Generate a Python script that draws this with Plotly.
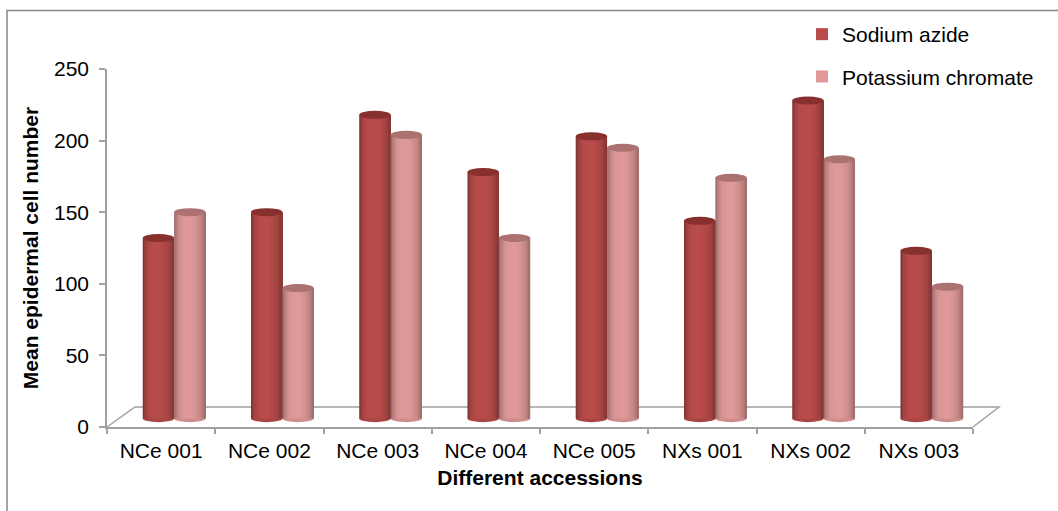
import numpy as np
import plotly.graph_objects as go

# ---- data ----
categories = ["NCe 001", "NCe 002", "NCe 003", "NCe 004", "NCe 005", "NXs 001", "NXs 002", "NXs 003"]
sodium_azide = [126, 144, 212, 172, 197, 138, 222, 117]
potassium_chromate = [144, 91, 198, 126, 189, 168, 181, 92]
y_ticks = [0, 50, 100, 150, 200, 250]

# ---- layout geometry (px) ----
W_PX, H_PX = 1058, 511
L, R, T, B = 107, 85, 69, 84
PW, PH = W_PX - L - R, H_PX - T - B

def px_to_paper(px, py):
    return (px - L) / PW, (H_PX - B - py) / PH

FONT = "Liberation Sans, Arial, sans-serif"
BASE = 6          # visual lift of bars above the front floor edge (3D look)
BAR_W = 0.29
N_STRIPS = 24
# cylinder shading profile across the bar width
_t_keys = [0.0, 0.08, 0.22, 0.38, 0.55, 0.70, 0.85, 1.0]
_f_keys = [0.66, 0.84, 0.97, 1.0, 1.0, 0.96, 0.87, 0.70]

def col(c, f=1.0):
    return "rgb(%d,%d,%d)" % tuple(min(255, int(round(v * f))) for v in c)

series = [
    ("Sodium azide", sodium_azide, (184, 76, 74), (136, 48, 46), -0.17),
    ("Potassium chromate", potassium_chromate, (222, 153, 152), (172, 114, 113), 0.12),
]

fig = go.Figure()
step = BAR_W / N_STRIPS
for name, vals, base_col, top_col, off in series:
    for k in range(N_STRIPS):
        t = (k + 0.5) / N_STRIPS
        f = float(np.interp(t, _t_keys, _f_keys))
        c = col(base_col, f)
        w = step * 1.6 if k < N_STRIPS - 1 else step
        fig.add_trace(go.Bar(
            x=categories, y=vals, base=BASE,
            offset=off + k * step, width=w,
            marker=dict(color=c, line=dict(width=0)),
            name=name, legendgroup=name, showlegend=(k == 10),
            hoverinfo="skip",
        ))
    for i, v in enumerate(vals):
        # top ellipse of cylinder
        fig.add_shape(type="circle", xref="x", yref="y",
                      x0=i + off, x1=i + off + BAR_W,
                      y0=BASE + v - 2.8, y1=BASE + v + 2.8,
                      fillcolor=col(top_col), line=dict(width=0), layer="above")
        # rounded bottom
        fig.add_shape(type="circle", xref="x", yref="y",
                      x0=i + off, x1=i + off + BAR_W,
                      y0=BASE - 2.6, y1=BASE + 2.6,
                      fillcolor=col(base_col, 0.92), line=dict(width=0), layer="below")

# 3D floor outline
bl = px_to_paper(135, 407)
br = px_to_paper(999, 407)
fig.add_shape(type="path", xref="paper", yref="paper",
              path=f"M 0,0 L {bl[0]},{bl[1]} L {br[0]},{br[1]} L 1,0",
              line=dict(color="#A0A0A0", width=1.5), layer="below")

# chart border (only top/left visible)
b0 = px_to_paper(7, 10.5)
fig.add_shape(type="rect", xref="paper", yref="paper",
              x0=b0[0], x1=1.3, y0=-0.4, y1=b0[1],
              line=dict(color="#888888", width=1.5), fillcolor="rgba(0,0,0,0)")

axis_col = "#A0A0A0"
fig.update_layout(
    width=W_PX, height=H_PX,
    margin=dict(l=L, r=R, t=T, b=B, autoexpand=False),
    paper_bgcolor="white", plot_bgcolor="white",
    barmode="overlay",
    font=dict(family=FONT, size=21, color="black"),
    xaxis=dict(
        type="category", range=[-0.5, 7.5],
        showline=True, linecolor=axis_col, linewidth=1.5,
        ticks="outside", ticklen=5, tickcolor=axis_col, tickwidth=1.5,
        tickson="boundaries", showgrid=False, zeroline=False,
        tickfont=dict(size=21, color="black"),
        ticklabelstandoff=4,
        title=dict(text="<b>Different accessions</b>", font=dict(size=21), standoff=9),
    ),
    yaxis=dict(
        range=[0, 250], tickvals=y_ticks,
        showline=True, linecolor=axis_col, linewidth=1.5,
        ticks="outside", ticklen=6, tickcolor=axis_col, tickwidth=1.5,
        showgrid=False, zeroline=False,
        tickfont=dict(size=21, color="black"),
        ticklabelstandoff=6,
        title=dict(text="<b>Mean epidermal cell number</b>", font=dict(size=21), standoff=10),
    ),
    legend=dict(
        x=px_to_paper(802, 0)[0], xanchor="left",
        y=px_to_paper(0, 14)[1], yanchor="top",
        traceorder="grouped", tracegroupgap=12,
        bgcolor="rgba(0,0,0,0)", font=dict(size=21, color="black"),
    ),
    showlegend=True,
)

fig.write_html("out.html")
